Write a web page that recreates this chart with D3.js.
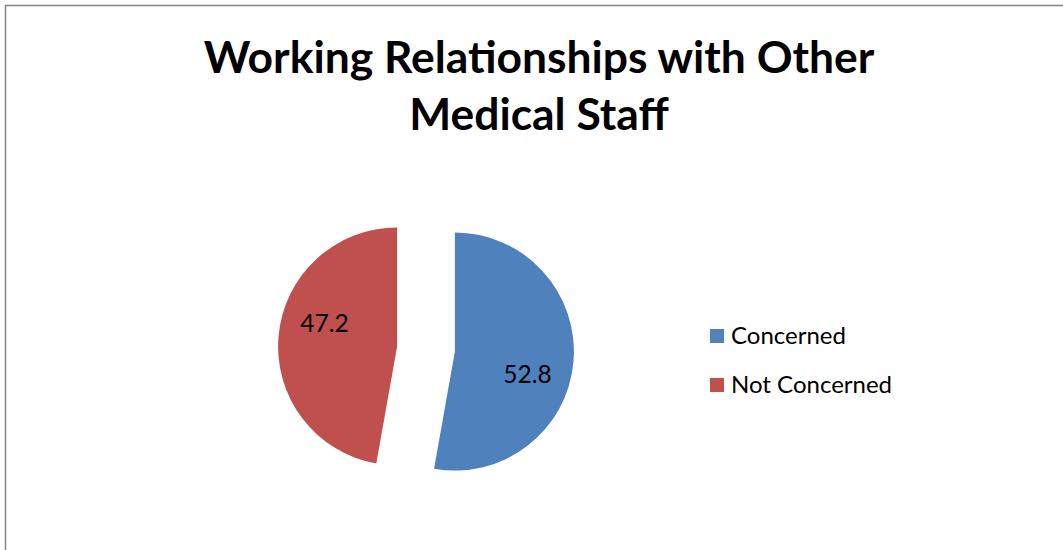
<!DOCTYPE html>
<html>
<head>
<meta charset="utf-8">
<title>Working Relationships with Other Medical Staff</title>
<script src="https://d3js.org/d3.v7.min.js"></script>
<style>
body { margin: 0; background: #fff; }
text { font-family: Lato, "Noto Sans", sans-serif; fill: #000; }
.title { font-weight: bold; font-size: 44.4px; }
.label { font-size: 24.5px; }
.legend text { font-size: 24px; }
</style>
</head>
<body>
<script>
// chart data
var categories = ["Concerned", "Not Concerned"];
var values = [52.8, 47.2];
var colors = ["#4F81BD", "#C0504D"];
var titleLines = ["Working Relationships with Other", "Medical Staff"];

var width = 1063, height = 550;
var cx = 426, cy = 349, radius = 119,
    explode = 29,              // slice offset along its bisector
    labelShift = 12.5 * Math.PI / 180;  // rotate label position clockwise

var svg = d3.select("body").append("svg")
    .attr("width", width)
    .attr("height", height);

// chart area frame
svg.append("rect")
    .attr("x", 5.5).attr("y", 5.5)
    .attr("width", width + 20).attr("height", height + 20)
    .attr("fill", "#fff")
    .attr("stroke", "#8a8a8a")
    .attr("stroke-width", 1.6);

svg.selectAll(".title")
    .data(titleLines)
  .enter().append("text")
    .attr("class", "title")
    .attr("x", 539)
    .attr("y", function(d, i) { return 73 + i * 57; })
    .attr("text-anchor", "middle")
    .text(function(d) { return d; });

var pie = d3.pie().sort(null).value(function(d) { return d; });
var arc = d3.arc().innerRadius(0).outerRadius(radius);
var arcs = pie(values);

var g = svg.append("g")
    .attr("transform", "translate(" + cx + "," + cy + ")");

var slice = g.selectAll(".slice")
    .data(arcs)
  .enter().append("g")
    .attr("class", "slice")
    .attr("transform", function(d) {
      var a = (d.startAngle + d.endAngle) / 2;
      return "translate(" + (explode * Math.sin(a)) + "," + (-explode * Math.cos(a)) + ")";
    });

slice.append("path")
    .attr("d", arc)
    .attr("fill", function(d, i) { return colors[i]; });

var labelArc = d3.arc().innerRadius(radius * 0.64).outerRadius(radius * 0.64);
slice.append("text")
    .attr("class", "label")
    .attr("transform", function(d) {
      var c = labelArc.centroid({startAngle: d.startAngle + labelShift, endAngle: d.endAngle + labelShift});
      return "translate(" + c + ")";
    })
    .attr("text-anchor", "middle")
    .attr("dy", "0.36em")
    .text(function(d) { return d3.format(".1f")(d.value); });

var legend = svg.append("g")
    .attr("class", "legend")
    .attr("transform", "translate(710,329)");

var item = legend.selectAll("g")
    .data(categories)
  .enter().append("g")
    .attr("transform", function(d, i) { return "translate(0," + i * 49 + ")"; });

item.append("rect")
    .attr("width", 14).attr("height", 14)
    .attr("fill", function(d, i) { return colors[i]; });

item.append("text")
    .attr("x", 21)
    .attr("y", 15)
    .text(function(d) { return d; });
</script>
</body>
</html>
